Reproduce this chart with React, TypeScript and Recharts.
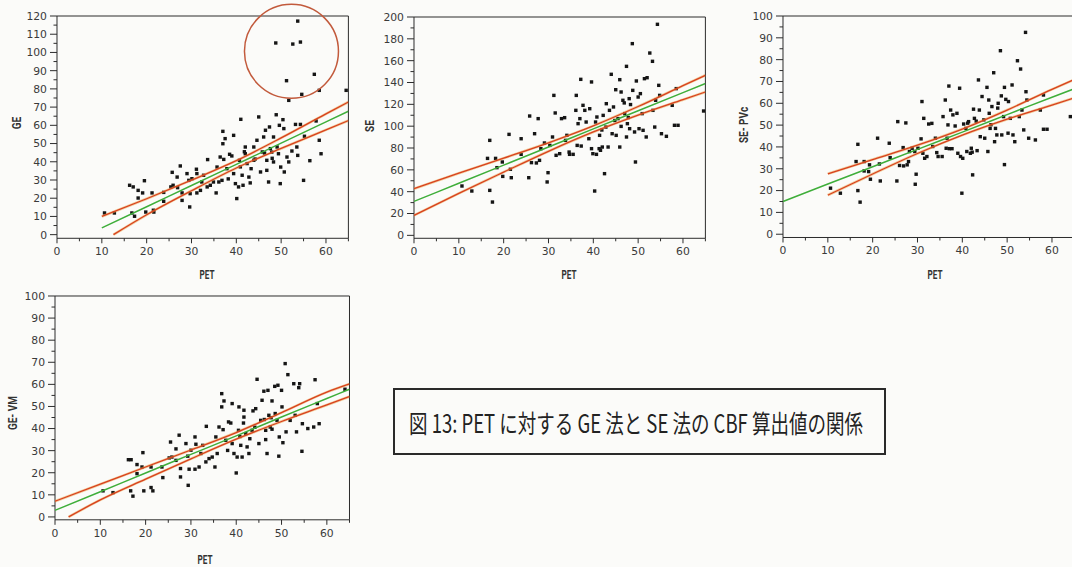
import React from 'react';
import { ScatterChart, Scatter, XAxis, YAxis, ReferenceLine, ReferenceDot } from 'recharts';

type Pt = [number, number];

// ---------- tick values ----------
const xMajor = [0, 10, 20, 30, 40, 50, 60];
const xMinor = [5, 15, 25, 35, 45, 55, 65];
const geYMajor = [0, 10, 20, 30, 40, 50, 60, 70, 80, 90, 100, 110, 120];
const geYMinor = [5, 15, 25, 35, 45, 55, 65, 75, 85, 95, 105, 115];
const seYMajor = [0, 20, 40, 60, 80, 100, 120, 140, 160, 180, 200];
const seYMinor = [10, 30, 50, 70, 90, 110, 130, 150, 170, 190];
const pctYMajor = [0, 10, 20, 30, 40, 50, 60, 70, 80, 90, 100];
const pctYMinor = [5, 15, 25, 35, 45, 55, 65, 75, 85, 95];

// ---------- GE vs PET ----------
const gePoints: Pt[] = [
  [53.7, 117.2], [48.8, 105.2], [52.6, 104.6], [54.3, 105.7], [51.2, 84.5], [57.4, 88], [54.6, 77], [58.5, 79.2], [51.7, 73.7], [64.5, 79.2],
  [10.6, 11.9], [12.8, 11.9], [16.2, 27.1], [17, 26.2], [16.7, 11.9], [17.3, 10.1], [18.1, 24.3], [18.1, 20.1], [19.1, 22.9], [19.5, 29.6],
  [19.8, 12.4], [21.2, 22.9], [21.5, 13.4], [21.6, 12.4], [23.8, 23.2], [23.8, 18.3], [25.7, 34.2], [25.9, 27.1], [25.4, 26.2], [26.8, 31.6],
  [27.5, 37.7], [27.9, 18.8], [27.9, 22.9], [26.9, 25.8], [29, 33.5], [29.4, 29.8], [29.6, 15.2], [29.7, 22.5], [30.1, 30.7], [31.1, 35.9],
  [31.2, 33.5], [31.2, 22.9], [32, 24.3], [32.3, 28.9], [32.7, 32.6], [33.5, 26.2], [33.6, 41.2], [34.2, 27.1], [34.9, 28.9], [35.5, 22.9],
  [35.7, 37.1], [36.1, 28.9], [36.4, 42.6], [36.8, 29.8], [37, 56.7], [37, 49.9], [37.5, 52.7], [37.2, 41.3], [37.9, 36.2], [38.5, 44.1],
  [39, 43.2], [39.4, 54.5], [39.4, 33.5], [39.8, 28], [40.1, 19.8], [40.5, 26.2], [41, 63.3], [40.7, 40.8], [41.3, 32.6], [41.5, 27.1],
  [42, 48.1], [42, 44.4], [42.4, 39], [42.8, 31.6], [43.1, 28.4], [43.3, 36.2], [43.9, 40.8], [43.9, 48.1], [44.6, 51.8], [45, 64.6],
  [45.4, 34.4], [45.8, 45.4], [46.1, 53.6], [46.5, 57.3], [46.8, 40.8], [46.8, 35.3], [47.2, 28.9], [47.4, 59.1], [47.6, 47.2], [48, 41.9],
  [48.3, 53.6], [48.3, 39.9], [48.9, 65.8], [49.1, 48.1], [49.4, 44.4], [49.6, 60], [49.8, 28], [49.9, 37.1], [50.4, 63.1], [50.6, 58.2],
  [50.7, 34.4], [51.3, 42.6], [51.7, 39.9], [52.4, 45.9], [53.2, 60.5], [53.5, 48.1], [53.7, 43.5], [54.3, 60.5], [55, 29.8], [55.2, 54],
  [56.4, 40.6], [57.8, 62.4], [58.5, 51.8], [58.9, 44.4], [41.8, 45.5], [44.2, 41.5], [47.9, 45.3], [46.3, 44.8], [38.2, 30.6], [40.9, 37.2],
];
const geFit: Pt[] = [[10, 3.7], [20, 15.3], [30, 27], [40, 38.6], [50, 50.2], [60, 61.9], [65, 67.7]];
const geUpper: Pt[] = [[10, 10], [20, 19.7], [30, 29.9], [40, 40.6], [50, 53.1], [60, 66.3], [65, 72.8]];
const geLower: Pt[] = [[12.6, 0], [20, 10.9], [30, 24.1], [40, 36.6], [50, 47.3], [60, 57.5], [65, 62.6]];

// ---------- SE vs PET ----------
const sePoints: Pt[] = [
  [10.7, 45.2], [12.9, 40.6], [16.4, 70.5], [16.9, 87], [16.9, 41.2], [17.5, 30.5], [18.2, 70.5], [18.5, 62], [19.7, 67.2], [19.8, 54],
  [21.2, 92.5], [21.7, 52.8], [21.5, 60.5], [23.9, 88.5], [23.9, 74.2], [25.6, 52.8], [25.8, 109.3], [26.2, 66.6], [26.9, 93.1], [27.3, 66.3],
  [27.7, 106.9], [28, 68.7], [28.3, 79.4], [29.1, 84.6], [29.7, 48.9], [29.9, 57.4], [30.3, 82.4], [30.9, 90.1], [31.2, 128.2], [31.5, 112.1],
  [31.7, 73.3], [32.5, 74.8], [32.9, 106.9], [33.6, 107.8], [33.8, 87], [34.1, 91.6], [34.6, 76.3], [34.7, 74.2], [35.5, 74.2], [36.1, 114.5],
  [36.2, 128.2], [36.4, 82.4], [36.6, 102.3], [37, 106.9], [37.2, 142.9], [37.3, 81.8], [37.7, 119.1], [38.1, 114.5], [38.4, 103.8], [39, 88.5],
  [39.2, 116], [39.6, 140.5], [39.6, 79.4], [39.9, 74.8], [40.3, 40.6], [40.5, 103.8], [40.7, 74.2], [40.8, 108.4], [41.3, 79.4], [41.4, 91.6],
  [41.6, 77.9], [42, 80.9], [42.2, 109.9], [42.5, 56.5], [42.8, 99.2], [42.9, 120.6], [43.3, 80.9], [43.6, 114.5], [44, 147.5], [44.2, 93.1],
  [44.5, 117.6], [45, 133.4], [45.1, 91.6], [45.5, 106.9], [45.9, 142.6], [45.9, 80.9], [46.2, 131.3], [46.2, 99.8], [46.6, 123.7], [47, 111.5],
  [47.4, 154.8], [47.4, 90.1], [47.6, 102.3], [48, 125.2], [48.1, 97.7], [48.7, 175.6], [48.8, 132.8], [49.2, 94.7], [49.4, 67.2], [49.6, 141.4],
  [50, 126.7], [50.2, 97.7], [50.5, 129.8], [50.9, 111.5], [51.1, 96.2], [51.4, 143.5], [51.8, 90.1], [52, 144.4], [52.6, 167], [53.2, 159.4],
  [53.3, 114.5], [53.7, 99.2], [53.9, 123.7], [54.3, 193.3], [54.6, 137.4], [54.8, 128.2], [55.2, 93.1], [56.3, 90.7], [57.6, 119.1], [58.1, 100.8],
  [58.5, 134.4], [58.9, 100.8], [64.6, 113.9], [46.9, 121.3], [44.8, 105.2], [41.9, 96.5], [48.3, 119.8], [47.8, 107.9],
];
const seFit: Pt[] = [[0, 31.1], [10, 47.7], [20, 64.3], [30, 80.9], [40, 97.5], [50, 114.1], [60, 130.7], [65, 139]];
const seUpper: Pt[] = [[0, 42.7], [10, 56.9], [20, 70.7], [30, 84.8], [40, 100.3], [50, 118], [60, 137.1], [65, 146.6]];
const seLower: Pt[] = [[0, 18.3], [10, 38.5], [20, 57.9], [30, 77], [40, 94.7], [50, 110.2], [60, 124.3], [65, 131.3]];

// ---------- SE-PVc vs PET ----------
const sePvcPoints: Pt[] = [
  [10.6, 21.1], [12.8, 18.8], [16.3, 33.3], [16.7, 41.2], [16.7, 20], [17.2, 14.7], [18.1, 33.3], [18.1, 29], [19.1, 28.7], [19.3, 31.8],
  [19.5, 25.2], [21.1, 44], [21.5, 32.2], [21.7, 24.4], [23.7, 41.7], [23.9, 35.1], [25.4, 24.4], [25.6, 51.6], [26, 31.5], [26.8, 39.7],
  [26.9, 31.3], [27.4, 51], [27.7, 31.8], [28, 33.3], [28.2, 37.9], [28.8, 39.4], [29.4, 37.9], [29.5, 22.9], [29.7, 27.5], [30.1, 39.4],
  [30.8, 43.7], [31, 60.8], [31.2, 37.1], [31.4, 53.1], [31.6, 34.8], [32.1, 35.6], [32.5, 50.5], [33.2, 50.8], [33.4, 40.2], [34, 44],
  [34.3, 37.4], [34.6, 35.6], [35.5, 35.6], [35.7, 53.9], [36.2, 61.5], [36.4, 39.4], [36.6, 44], [36.8, 50.1], [37, 67.9], [37.1, 39.2],
  [37.4, 56.9], [37.7, 39.2], [37.9, 54.7], [38.4, 49.6], [38.8, 55.4], [39, 37.1], [39.4, 66.9], [39.6, 35.6], [39.9, 18.8], [40.1, 34.8],
  [40.3, 50.5], [40.8, 48.5], [41, 37.9], [41.4, 51.6], [41.8, 37.1], [42, 39.4], [42.3, 27.2], [42.5, 57.3], [42.7, 53.1], [43.3, 38.3],
  [43.6, 70.7], [43.8, 56.9], [44, 44.7], [44.4, 63.1], [44.8, 52.4], [45, 44], [45.5, 67.3], [45.7, 37.9], [45.9, 61.5], [46, 55.4],
  [46.2, 48.5], [46.6, 58.5], [47, 74], [47.2, 42.4], [47.4, 48.5], [47.7, 45.5], [48, 60], [48.5, 84.1], [48.7, 63.4], [48.8, 45.5],
  [49.2, 53.9], [49.4, 67.3], [49.4, 31.9], [49.7, 61.8], [50.2, 46.3], [50.3, 60.8], [50.7, 53.1], [51.1, 68.4], [51.3, 45.5], [51.7, 42.4],
  [52.3, 79.5], [52.7, 53.9], [53, 75.7], [53.3, 56.9], [53.7, 47.8], [54.1, 92.5], [54.2, 65.3], [54.4, 61.5], [54.8, 44], [56.3, 43.2],
  [57.4, 56.9], [58.1, 63.8], [58.1, 48.1], [58.9, 48.1], [64.1, 53.9], [41.2, 50.9], [43.1, 51.8], [46.4, 50.2], [47.9, 57.8], [42.2, 37.6],
];
const sePvcFit: Pt[] = [[0, 15], [10, 23], [20, 30.9], [30, 38.9], [40, 46.8], [50, 54.8], [60, 62.8], [65, 66.7]];
const sePvcUpper: Pt[] = [[10, 27.7], [20, 34.2], [30, 40.8], [40, 48.2], [50, 56.9], [60, 66.4], [65, 70.9]];
const sePvcLower: Pt[] = [[10, 17.9], [20, 27.6], [30, 37], [40, 45.4], [50, 52.7], [60, 59.2], [65, 62.5]];

// ---------- GE-VM vs PET ----------
const geVmPoints: Pt[] = [
  [10.6, 11.8], [12.8, 11], [16.2, 25.9], [16.8, 25.9], [16.7, 11.8], [17.2, 9.4], [18.1, 23.7], [18.1, 19.6], [19.2, 22.6], [19.4, 29.1],
  [19.6, 11.8], [21.2, 22.6], [21.2, 13.3], [21.6, 11.8], [23.6, 22.6], [23.8, 17.8], [25.5, 33.9], [25.8, 27.1], [25.2, 26.7], [26.7, 30.8],
  [27.4, 37], [27.7, 18.1], [27.7, 21.9], [26.7, 25.6], [28.9, 33.2], [29.3, 27.5], [29.4, 14.3], [29.6, 21.6], [30, 30.2], [30.9, 36.2],
  [31.1, 32.9], [30.9, 21.6], [31.8, 22.6], [32.2, 28.7], [32.6, 32.4], [33.3, 24.9], [33.4, 41], [34, 26.4], [34.7, 27.1], [35.3, 22.6],
  [35.5, 36.2], [35.8, 28.7], [36.2, 40.7], [36.8, 55.8], [36.8, 49.8], [37.3, 52.5], [37.1, 39.5], [37.7, 34.7], [38.3, 43], [38.8, 42.5],
  [39.1, 51.3], [39.1, 33.2], [39.5, 28.7], [40, 19.9], [40.2, 27.1], [40.6, 49.8], [40.5, 39.2], [41, 32.4], [41.3, 27.1], [41.7, 48.3],
  [41.7, 45.2], [42.1, 37.7], [42.4, 31.7], [42.8, 28.7], [43, 35.4], [43.5, 39.2], [43.7, 48], [44.3, 49], [44.6, 62.3], [45, 33.2],
  [45.4, 43.7], [45.7, 52.8], [46.1, 56.9], [46.5, 39.2], [46.5, 35], [46.8, 28.7], [47, 57.3], [47.2, 46], [47.5, 40.7], [47.9, 52.5],
  [47.9, 39.7], [48.5, 59.1], [48.6, 46.8], [49, 43.7], [49.2, 59.6], [49.4, 27.5], [49.5, 36.2], [50, 57.3], [50.1, 49.8], [50.3, 33.6],
  [50.8, 69.4], [51, 38.5], [51.4, 64.4], [51.9, 43.7], [52.7, 60.3], [53, 46], [53.3, 38.5], [53.8, 58.5], [54, 60.3], [54.5, 29.7],
  [54.6, 42.2], [55.8, 40], [57.1, 40.7], [57.4, 62.1], [57.9, 51.3], [58.3, 42.2], [64, 57.8], [41.6, 42.5], [44.1, 40.6], [47.7, 44.9],
  [46.2, 44.1], [38.1, 30.1], [40.8, 36.4],
];
const geVmFit: Pt[] = [[0, 3], [10, 11.4], [20, 19.9], [30, 28.3], [40, 36.7], [50, 45.2], [60, 53.6], [65, 57.8]];
const geVmUpper: Pt[] = [[0, 7.1], [10, 14.8], [20, 22.6], [30, 30.3], [40, 38.2], [50, 47.2], [60, 56.5], [65, 60.2]];
const geVmLower: Pt[] = [[3, 0], [10, 7.7], [20, 17.1], [30, 26.3], [40, 35.2], [50, 43.2], [60, 50.7], [65, 54.5]];

// ---------- styles ----------
const AXIS = '#2b2b2b';
const TICK_TEXT = '#3a3a3a';
const GREEN = '#3fae3a';
const RED = '#d8401f';
const ORANGE = '#eaa040';
const DOT = '#151515';
const TICK_FONT = '"DejaVu Sans", sans-serif';

const toXY = (pts: Pt[]) => pts.map(([x, y]) => ({ x, y }));

const makeXTick = (major: number[]) => (p: any) => {
  const { x, y, payload } = p;
  const isMajor = major.includes(payload.value);
  const y0 = y - 9;
  return (
    <g>
      <line x1={x} x2={x} y1={y0} y2={y0 + (isMajor ? 5 : 3)} stroke={AXIS} strokeWidth={1} />
      {isMajor && (
        <text x={x} y={y0 + 9} dy="0.72em" textAnchor="middle" fill={TICK_TEXT} fontSize={10.8} fontFamily={TICK_FONT}>
          {payload.value}
        </text>
      )}
    </g>
  );
};

const makeYTick = (major: number[]) => (p: any) => {
  const { x, y, payload } = p;
  const isMajor = major.includes(payload.value);
  const x0 = x + 9;
  return (
    <g>
      <line x1={x0} x2={x0 - (isMajor ? 7 : 3.5)} y1={y} y2={y} stroke={AXIS} strokeWidth={1} />
      {isMajor && (
        <text x={x0 - 10} y={y} dy="0.36em" textAnchor="end" fill={TICK_TEXT} fontSize={10.8} fontFamily={TICK_FONT}>
          {payload.value}
        </text>
      )}
    </g>
  );
};

const SquareDot = (p: any) => {
  if (p.cx == null || p.cy == null) return <g />;
  return <rect x={p.cx - 1.7} y={p.cy - 1.7} width={3.4} height={3.4} fill={DOT} />;
};
const NoDot = () => <g />;

type PanelProps = {
  plotLeft: number;
  plotTop: number;
  plotWidth: number;
  plotHeight: number;
  yDomain: [number, number];
  yMajor: number[];
  yMinor: number[];
  points: Pt[];
  fit: Pt[];
  upper: Pt[];
  lower: Pt[];
  circle?: { x: number; y: number; r: number };
};

function Panel(props: PanelProps) {
  const ML = 50;
  const MT = 20;
  const MR = 10;
  const XH = 25;
  const MB = 5;
  const width = ML + props.plotWidth + MR;
  const height = MT + props.plotHeight + XH + MB;
  const xTicks = [...xMajor, ...xMinor].sort((a, b) => a - b);
  const yTicks = [...props.yMajor, ...props.yMinor].sort((a, b) => a - b);
  const band = (pts: Pt[], key: string) => [
    <Scatter key={key + 'o'} data={toXY(pts)} fill={ORANGE} line={{ stroke: ORANGE, strokeWidth: 2.6, strokeOpacity: 0.5 }} lineType="joint" lineJointType="monotoneX" shape={NoDot} isAnimationActive={false} />,
    <Scatter key={key + 'r'} data={toXY(pts)} fill={RED} line={{ stroke: RED, strokeWidth: 1.3 }} lineType="joint" lineJointType="monotoneX" shape={NoDot} isAnimationActive={false} />,
  ];
  return (
    <div style={{ position: 'absolute', left: props.plotLeft - ML, top: props.plotTop - MT }}>
      <ScatterChart width={width} height={height} margin={{ top: MT, right: MR, left: 5, bottom: MB }} style={{ overflow: 'visible' }}>
        <XAxis
          type="number"
          dataKey="x"
          domain={[0, 65]}
          ticks={xTicks}
          interval={0}
          allowDataOverflow
          tick={makeXTick(xMajor)}
          tickLine={false}
          tickSize={6}
          tickMargin={3}
          height={XH}
          axisLine={{ stroke: AXIS, strokeWidth: 1 }}
        />
        <YAxis
          type="number"
          dataKey="y"
          domain={props.yDomain}
          ticks={yTicks}
          interval={0}
          allowDataOverflow
          tick={makeYTick(props.yMajor)}
          tickLine={false}
          tickSize={6}
          tickMargin={3}
          width={45}
          axisLine={{ stroke: AXIS, strokeWidth: 1 }}
        />
        <ReferenceLine y={props.yDomain[1]} stroke={AXIS} strokeWidth={1} />
        <ReferenceLine x={65} stroke={AXIS} strokeWidth={1} />
        <Scatter data={toXY(props.points)} fill={DOT} shape={SquareDot} isAnimationActive={false} />
        {band(props.upper, 'u')}
        {band(props.lower, 'l')}
        <Scatter data={toXY(props.fit)} fill={GREEN} line={{ stroke: GREEN, strokeWidth: 1.5 }} lineType="joint" lineJointType="monotoneX" shape={NoDot} isAnimationActive={false} />
        {props.circle && (
          <ReferenceDot x={props.circle.x} y={props.circle.y} r={props.circle.r} fill="none" stroke="#c25a3c" strokeWidth={1.5} ifOverflow="visible" />
        )}
      </ScatterChart>
    </div>
  );
}

const titleStyle = (cx: number, cy: number, rotate: boolean, sx: number): React.CSSProperties => ({
  position: 'absolute',
  left: cx,
  top: cy,
  transform: `translate(-50%, -50%)${rotate ? ' rotate(-90deg)' : ''} scaleX(${sx})`,
  fontFamily: 'Roboto, "DejaVu Sans", sans-serif',
  fontWeight: 700,
  fontSize: 12.5,
  color: '#333',
  whiteSpace: 'nowrap',
  lineHeight: '14px',
});

export default function App() {
  return (
    <div
      style={{
        position: 'fixed',
        left: 0,
        top: 0,
        width: 1072,
        height: 567,
        overflow: 'hidden',
        background: '#fbfbf9',
      }}
    >
      <Panel plotLeft={56.7} plotTop={15.7} plotWidth={291.4} plotHeight={222.3} yDomain={[-2, 120]} yMajor={geYMajor} yMinor={geYMinor}
        points={gePoints} fit={geFit} upper={geUpper} lower={geLower} circle={{ x: 52.3, y: 100.6, r: 47 }} />
      <Panel plotLeft={414.3} plotTop={16.7} plotWidth={291.4} plotHeight={221.3} yDomain={[-2.7, 200]} yMajor={seYMajor} yMinor={seYMinor}
        points={sePoints} fit={seFit} upper={seUpper} lower={seLower} />
      <Panel plotLeft={782.7} plotTop={16} plotWidth={291.4} plotHeight={221.5} yDomain={[-1.5, 100]} yMajor={pctYMajor} yMinor={pctYMinor}
        points={sePvcPoints} fit={sePvcFit} upper={sePvcUpper} lower={sePvcLower} />
      <Panel plotLeft={55} plotTop={295.7} plotWidth={294.5} plotHeight={223.8} yDomain={[-1.3, 100]} yMajor={pctYMajor} yMinor={pctYMinor}
        points={geVmPoints} fit={geVmFit} upper={geVmUpper} lower={geVmLower} />

      <div style={titleStyle(17, 123, true, 0.8)}>GE</div>
      <div style={titleStyle(207, 275, false, 0.65)}>PET</div>
      <div style={titleStyle(370, 126, true, 0.8)}>SE</div>
      <div style={titleStyle(569, 275, false, 0.65)}>PET</div>
      <div style={titleStyle(744, 125, true, 0.8)}>SE- PVc</div>
      <div style={titleStyle(935, 275, false, 0.65)}>PET</div>
      <div style={titleStyle(13, 413, true, 0.8)}>GE- VM</div>
      <div style={titleStyle(205, 560, false, 0.65)}>PET</div>

      <div
        style={{
          position: 'absolute',
          left: 393,
          top: 388,
          width: 493,
          height: 67,
          border: '2px solid #2a2a2a',
          boxSizing: 'border-box',
        }}
      >
        <div
          style={{
            position: 'absolute',
            left: 14,
            top: '50%',
            transform: 'translateY(-50%) scaleX(0.74)',
            transformOrigin: 'left center',
            fontFamily: '"Noto Sans CJK JP", "Noto Sans", sans-serif',
            fontSize: 25,
            color: '#222',
            whiteSpace: 'nowrap',
            lineHeight: '32px',
          }}
        >
          図 13: PET に対する GE 法と SE 法の CBF 算出値の関係
        </div>
      </div>
    </div>
  );
}
